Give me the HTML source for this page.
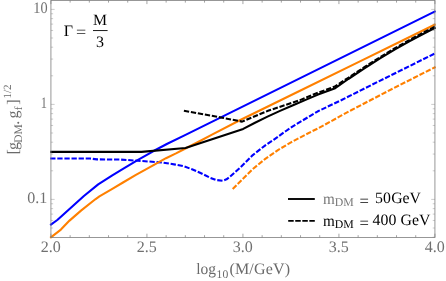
<!DOCTYPE html>
<html><head><meta charset="utf-8">
<style>
html,body{margin:0;padding:0;background:#fff;}
body{width:446px;height:281px;overflow:hidden;position:relative;font-family:"Liberation Serif",serif;}
svg{position:absolute;left:0;top:0;will-change:transform;}
text{font-family:"Liberation Serif",serif;text-rendering:geometricPrecision;}
</style></head><body>
<svg width="446" height="281" viewBox="0 0 446 281">
<rect x="0" y="0" width="446" height="281" fill="#fff"/>

<g fill="none" stroke-linejoin="round">
<path d="M50.2 158.5 L90.0 158.5 L97.0 159.4 L120.0 159.5 L134.3 160.5 L148.7 161.5 L163.0 162.6 L175.4 164.6 L184.0 166.3 L192.0 169.3 L200.0 172.7 L210.0 177.7 L216.0 180.0 L222.6 180.8 L226.5 179.3 L230.2 176.5 L240.2 167.7 L252.8 155.1 L265.3 145.3 L273.6 139.8 L286.0 131.0 L292.8 126.3 L317.9 111.3 L341.6 100.0 L364.0 88.7 L392.0 74.8 L435.6 53.1" stroke="#0000ff" stroke-width="2.1" stroke-dasharray="5.3 1.8"/>
<path d="M232.7 189.0 L242.7 179.0 L252.8 169.0 L265.3 158.9 L277.9 150.1 L290.5 142.6 L312.0 131.3 L317.9 128.5 L342.0 115.2 L351.6 110.0 L392.0 89.0 L429.5 70.0 L435.6 67.0" stroke="#ff8000" stroke-width="2.1" stroke-dasharray="5.3 1.8"/>
<path d="M50.2 225.2 L57.3 220.0 L69.5 209.0 L83.9 196.0 L98.2 184.4 L112.3 175.4 L123.0 168.9 L138.0 159.9 L153.1 151.3 L167.3 143.8 L184.0 135.6 L435.6 11.1" stroke="#0000ff" stroke-width="2.1"/>
<path d="M50.2 237.8 L60.9 229.6 L69.5 220.6 L81.0 210.6 L95.3 199.3 L99.4 196.3 L112.3 188.9 L123.0 182.5 L135.9 174.9 L153.1 165.3 L166.0 158.2 L176.0 153.4 L184.0 149.3 L200.5 140.7 L212.0 134.6 L240.3 120.0 L300.0 90.8 L364.0 59.4 L403.5 40.0 L435.6 24.3" stroke="#ff8000" stroke-width="2.1"/>
<path d="M50.2 151.9 L141.5 151.9 L185.5 148.0 L243.2 128.9 L255.0 122.7 L268.0 116.4 L280.0 110.9 L293.0 105.3 L305.0 100.1 L318.0 94.6 L334.5 88.6 L348.3 79.0 L364.0 68.6 L380.0 58.4 L395.0 49.4 L409.3 41.3 L424.0 33.5 L435.6 27.5" stroke="#000" stroke-width="2.1"/>
<path d="M183.9 110.7 L222.0 117.7 L242.1 121.6 L268.0 110.8 L300.0 100.1 L316.0 93.5 L334.3 86.8 L348.3 77.8 L364.0 67.4 L380.0 57.2 L395.0 48.2 L409.3 40.1 L424.0 32.3 L435.6 26.3" stroke="#000" stroke-width="2.1" stroke-dasharray="5.3 1.8"/>
</g>
<rect x="50.93" y="0.4" width="384.0" height="237.0" fill="none" stroke="#7d7d7d" stroke-width="0.8"/>
<path d="M50.93 237.40 v-3.70 M50.93 0.40 v3.70 M70.13 237.40 v-2.20 M70.13 0.40 v2.20 M89.33 237.40 v-2.20 M89.33 0.40 v2.20 M108.53 237.40 v-2.20 M108.53 0.40 v2.20 M127.73 237.40 v-2.20 M127.73 0.40 v2.20 M146.93 237.40 v-3.70 M146.93 0.40 v3.70 M166.13 237.40 v-2.20 M166.13 0.40 v2.20 M185.33 237.40 v-2.20 M185.33 0.40 v2.20 M204.53 237.40 v-2.20 M204.53 0.40 v2.20 M223.73 237.40 v-2.20 M223.73 0.40 v2.20 M242.93 237.40 v-3.70 M242.93 0.40 v3.70 M262.13 237.40 v-2.20 M262.13 0.40 v2.20 M281.33 237.40 v-2.20 M281.33 0.40 v2.20 M300.53 237.40 v-2.20 M300.53 0.40 v2.20 M319.73 237.40 v-2.20 M319.73 0.40 v2.20 M338.93 237.40 v-3.70 M338.93 0.40 v3.70 M358.13 237.40 v-2.20 M358.13 0.40 v2.20 M377.33 237.40 v-2.20 M377.33 0.40 v2.20 M396.53 237.40 v-2.20 M396.53 0.40 v2.20 M415.73 237.40 v-2.20 M415.73 0.40 v2.20 M434.93 237.40 v-3.70 M434.93 0.40 v3.70" stroke="#7d7d7d" stroke-width="0.7" fill="none"/>
<path d="M50.93 237.20 h2.20 M434.93 237.20 h-2.20 M50.93 228.00 h2.20 M434.93 228.00 h-2.20 M50.93 220.48 h2.20 M434.93 220.48 h-2.20 M50.93 214.12 h2.20 M434.93 214.12 h-2.20 M50.93 208.61 h2.20 M434.93 208.61 h-2.20 M50.93 203.75 h2.20 M434.93 203.75 h-2.20 M50.93 199.40 h3.70 M434.93 199.40 h-3.70 M50.93 170.80 h2.20 M434.93 170.80 h-2.20 M50.93 154.07 h2.20 M434.93 154.07 h-2.20 M50.93 142.20 h2.20 M434.93 142.20 h-2.20 M50.93 133.00 h2.20 M434.93 133.00 h-2.20 M50.93 125.48 h2.20 M434.93 125.48 h-2.20 M50.93 119.12 h2.20 M434.93 119.12 h-2.20 M50.93 113.61 h2.20 M434.93 113.61 h-2.20 M50.93 108.75 h2.20 M434.93 108.75 h-2.20 M50.93 104.40 h3.70 M434.93 104.40 h-3.70 M50.93 75.80 h2.20 M434.93 75.80 h-2.20 M50.93 59.07 h2.20 M434.93 59.07 h-2.20 M50.93 47.20 h2.20 M434.93 47.20 h-2.20 M50.93 38.00 h2.20 M434.93 38.00 h-2.20 M50.93 30.48 h2.20 M434.93 30.48 h-2.20 M50.93 24.12 h2.20 M434.93 24.12 h-2.20 M50.93 18.61 h2.20 M434.93 18.61 h-2.20 M50.93 13.75 h2.20 M434.93 13.75 h-2.20 M50.93 9.40 h3.70 M434.93 9.40 h-3.70" stroke="#7d7d7d" stroke-width="0.4" fill="none"/>
<g fill="#707070" font-size="16px">
<text x="47.6" y="12.9" text-anchor="end" textLength="14.3" lengthAdjust="spacingAndGlyphs">10</text>
<text x="46.9" y="107.7" text-anchor="end" textLength="6.2" lengthAdjust="spacingAndGlyphs">1</text>
<text x="47.2" y="202.9" text-anchor="end">0.1</text>
<text x="50.63" y="252" text-anchor="middle">2.0</text>
<text x="146.63" y="252" text-anchor="middle">2.5</text>
<text x="242.63" y="252" text-anchor="middle">3.0</text>
<text x="338.63" y="252" text-anchor="middle">3.5</text>
<text x="434.63" y="252" text-anchor="middle">4.0</text>
</g>
<text x="196.3" y="273.6" fill="#6a6a6a" font-size="16px"><tspan textLength="19.8" lengthAdjust="spacingAndGlyphs">log</tspan><tspan font-size="11.6px" dy="4.3" dx="0.5">10</tspan><tspan dy="-4.3" dx="1.3" textLength="60.5" lengthAdjust="spacing">(M/GeV)</tspan></text>
<g transform="translate(18.3,154) rotate(-90)" fill="#6a6a6a" font-size="16px">
<text x="-0.6" y="0">[</text>
<text x="4.1" y="0">g</text>
<text x="11.3" y="3.2" font-size="11.5px">DM</text>
<text x="29.3" y="0.3">.</text>
<text x="35.5" y="0">g</text>
<text x="43.8" y="3.2" font-size="11px">f</text>
<text x="49.3" y="0">]</text>
<text x="55.4" y="-7.1" font-size="11px">1/2</text>
</g>
<!-- annotation -->
<g fill="#000" font-size="16px">
<text x="63.7" y="35.6">Γ</text>
<text x="76.1" y="37.1" fill="#222" textLength="10.2" lengthAdjust="spacingAndGlyphs">=</text>
<text x="100.1" y="24.5" text-anchor="middle" font-size="15.8px">M</text>
<path d="M93 30.55 H107.6" stroke="#000" stroke-width="0.9"/>
<text x="99.9" y="46.8" text-anchor="middle" font-size="16px">3</text>
</g>
<!-- legend -->
<path d="M288 199 H314.8" stroke="#000" stroke-width="1.9"/>
<path d="M288.2 220.9 H314.8" stroke="#000" stroke-width="1.9" stroke-dasharray="5.5 1.55"/>
<g font-size="15.8px" fill="#000">
<text x="322.9" y="203.6" fill="#777" textLength="11.8" lengthAdjust="spacingAndGlyphs">m</text>
<text x="334.7" y="205.8" fill="#777" font-size="11.8px">DM</text>
<text x="359.6" y="205.7" textLength="9.4" lengthAdjust="spacingAndGlyphs">=</text>
<text x="375" y="203.3">50</text>
<text x="391.2" y="203.3">GeV</text>
<text x="322.9" y="225.5" textLength="11.8" lengthAdjust="spacingAndGlyphs">m</text>
<text x="334.7" y="227.6" font-size="11.8px">DM</text>
<text x="359.6" y="227.6" textLength="9.4" lengthAdjust="spacingAndGlyphs">=</text>
<text x="372.6" y="225.2">400</text>
<text x="400.5" y="225.2">GeV</text>
</g>
</svg>
</body></html>
